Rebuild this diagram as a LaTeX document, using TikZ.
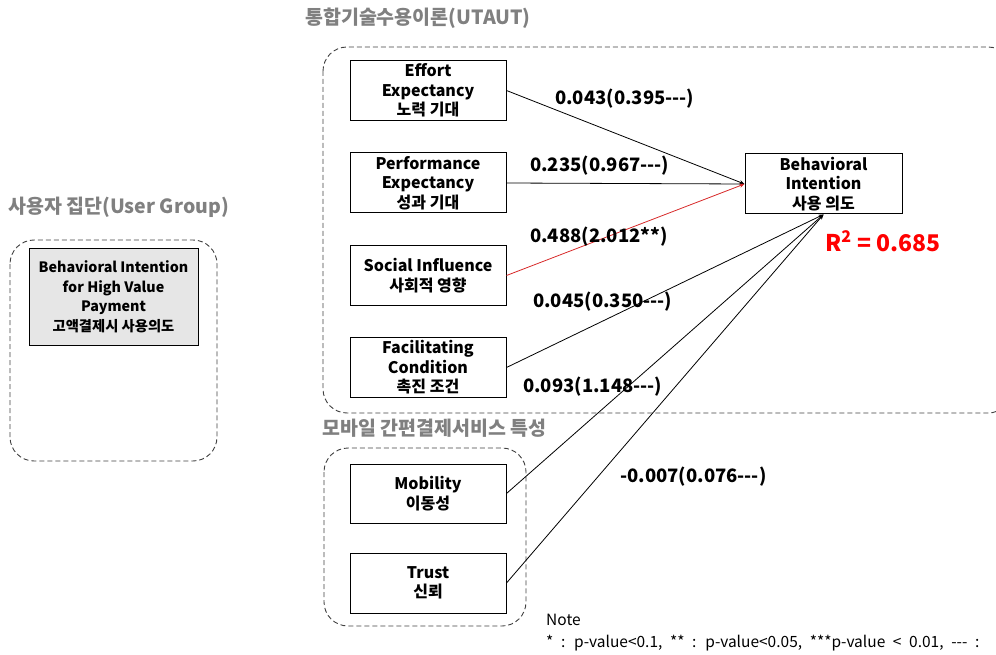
\documentclass[tikz,border=0pt]{standalone}
\usepackage{fontspec}
\setmainfont{Noto Sans CJK KR}
\newfontfamily\notefont[WordSpace=2.2]{Noto Sans CJK KR}
\usetikzlibrary{arrows.meta}
\definecolor{titlegray}{RGB}{128,128,128}
\definecolor{boxgray}{RGB}{230,230,230}
\definecolor{pathred}{RGB}{215,40,40}
\newcommand{\ddd}{{-}{-}{-}}
\begin{document}
\begin{tikzpicture}[x=1pt,y=-1pt,
 cbox/.style={draw, line width=1pt, fill=white, minimum width=156pt, minimum height=60pt, inner sep=0pt, align=center, font=\fontsize{16}{19.5}\selectfont\bfseries},
 grp/.style={draw=black!75, dash pattern=on 5pt off 3pt, line width=0.9pt, rounded corners=24pt},
 ttl/.style={text=titlegray, font=\fontsize{19.5}{22}\selectfont\bfseries, anchor=west, inner sep=0pt},
 lbl/.style={font=\fontsize{18.5}{21}\selectfont\bfseries, anchor=west, inner sep=0pt},
 conn/.style={line width=0.8pt, -{Stealth[length=5pt,width=4pt]}}
]
\useasboundingbox (0,0) rectangle (996,655);

% titles
\node[ttl] (t1) at (305,18) {통합기술수용이론(UTAUT)};
\node[ttl] (t2) at (322,428) {모바일 간편결제서비스 특성};
\node[ttl] (t3) at (8,207) {사용자 집단(User Group)};

% group frames
\draw[grp] (323,47) rectangle (1012,413);
\draw[grp] (324,448) rectangle (526,626);
\draw[grp] (10,240) rectangle (217,461);

% construct boxes
\node[cbox] (EE) at (428,90.5) {Effort\\Expectancy\\노력 기대};
\node[cbox] (PE) at (428,183) {Performance\\Expectancy\\성과 기대};
\node[cbox] (SI) at (428,275.5) {Social Influence\\사회적 영향};
\node[cbox] (FC) at (428,367.5) {Facilitating\\Condition\\촉진 조건};
\node[cbox, minimum width=157pt] (BI) at (823.5,184) {Behavioral\\Intention\\사용 의도};
\node[cbox, minimum height=59pt] (MO) at (428,493.5) {Mobility\\이동성};
\node[cbox] (TR) at (428,583) {Trust\\신뢰};
\node[cbox, fill=boxgray, minimum width=169pt, minimum height=96pt, font=\fontsize{14.3}{19.5}\selectfont\bfseries] (UG) at (113.5,297)
  {Behavioral Intention\\for High Value\\Payment\\고액결제시 사용의도};

% connectors
\draw[conn] (EE.east) -- (BI.west);
\draw[conn] (PE.east) -- (BI.west);
\draw[conn, pathred] (SI.east) -- (BI.west);
\draw[conn] (FC.east) -- (BI.south);
\draw[conn] (MO.east) -- (BI.south);
\draw[conn] (TR.east) -- (BI.south);

% coefficient labels
\node[lbl] (l1) at (555,99) {0.043(0.395\ddd)};
\node[lbl] (l2) at (530,166) {0.235(0.967\ddd)};
\node[lbl] (l3) at (530,237) {0.488(2.012**)};
\node[lbl] (l4) at (533,302) {0.045(0.350\ddd)};
\node[lbl] (l5) at (523,387) {0.093(1.148\ddd)};
\node[lbl] (l6) at (620,477) {-0.007(0.076\ddd)};

\node[anchor=west, inner sep=0pt, text=red, font=\fontsize{23}{26}\selectfont\bfseries] (r2) at (825,241) {R\textsuperscript{2} = 0.685};

% note
\node[anchor=west, inner sep=0pt, font=\fontsize{15.5}{18}\selectfont] (n1) at (546,620) {Note};
\node[anchor=west, inner sep=0pt, font=\notefont\fontsize{15.5}{18}\selectfont] (n2) at (546,643) {* : p-value<0.1, ** : p-value<0.05, ***p-value < 0.01, \ddd{} :};
\end{tikzpicture}
\end{document}
